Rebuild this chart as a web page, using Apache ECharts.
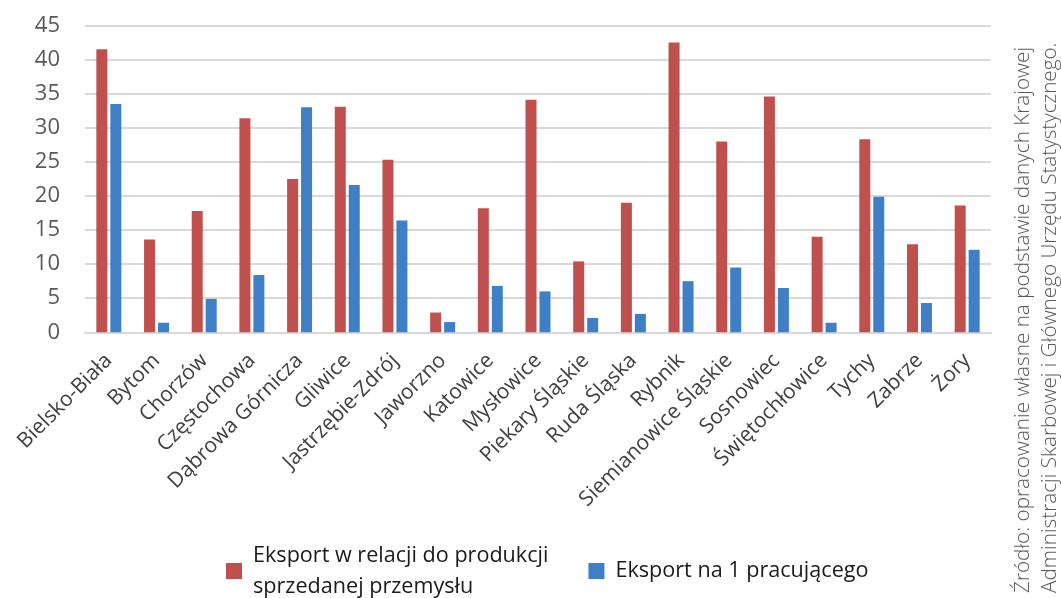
<!DOCTYPE html>
<html>
<head>
<meta charset="utf-8">
<script src="https://cdn.jsdelivr.net/npm/echarts@6/dist/echarts.min.js"></script>
<style>
  html, body { margin: 0; padding: 0; background: #ffffff; }
  #chart { width: 1061px; height: 598px; }
</style>
</head>
<body>
<div id="chart"></div>
<script>
// Cities of the Silesian voivodeship
const cities = [
  'Bielsko-Biała', 'Bytom', 'Chorzów', 'Częstochowa', 'Dąbrowa Górnicza',
  'Gliwice', 'Jastrzębie-Zdrój', 'Jaworzno', 'Katowice', 'Mysłowice',
  'Piekary Śląskie', 'Ruda Śląska', 'Rybnik', 'Siemianowice Śląskie',
  'Sosnowiec', 'Świętochłowice', 'Tychy', 'Zabrze', 'Żory'
];

// Export relative to sold industrial production
const exportToProduction = [
  41.5, 13.6, 17.8, 31.4, 22.5, 33.1, 25.3, 2.9, 18.2, 34.1,
  10.4, 19.0, 42.5, 28.0, 34.6, 14.0, 28.3, 12.9, 18.6
];

// Export per employed person
const exportPerWorker = [
  33.5, 1.4, 4.9, 8.4, 33.0, 21.6, 16.4, 1.5, 6.8, 6.0,
  2.1, 2.7, 7.5, 9.5, 6.5, 1.4, 19.9, 4.3, 12.1
];

const seriesNames = [
  'Eksport w relacji do produkcji\nsprzedanej przemysłu',
  'Eksport na 1 pracującego'
];

const sourceLines = [
  'Źródło: opracowanie własne na podstawie danych Krajowej',
  'Administracji Skarbowej i Głównego Urzędu Statystycznego.'
];

const FONT = '"Open Sans", "DejaVu Sans", sans-serif';

const chart = echarts.init(document.getElementById('chart'), null, { renderer: 'canvas' });

chart.setOption({
  backgroundColor: '#ffffff',
  animation: false,
  grid: { left: 85, right: 70, top: 25.5, bottom: 265.7 },
  legend: {
    left: 226,
    top: 540,
    padding: 0,
    itemWidth: 16,
    itemHeight: 16,
    itemGap: 40,
    icon: 'rect',
    textStyle: {
      fontFamily: FONT,
      fontSize: 21.6,
      color: '#1a1a1a',
      lineHeight: 31,
      padding: [0, 0, 0, 6]
    },
    data: seriesNames
  },
  xAxis: {
    type: 'category',
    data: cities,
    axisTick: { show: false },
    axisLine: { show: true, lineStyle: { color: '#d9d9d9', width: 2 } },
    axisLabel: {
      interval: 0,
      rotate: 45,
      margin: 25,
      fontFamily: FONT,
      fontSize: 21,
      color: '#404040'
    }
  },
  yAxis: {
    type: 'value',
    min: 0,
    max: 45,
    interval: 5,
    axisLine: { show: false },
    axisTick: { show: false },
    splitLine: { lineStyle: { color: '#d9d9d9', width: 2 } },
    axisLabel: {
      margin: 25,
      fontFamily: FONT,
      fontSize: 22,
      color: '#595959'
    }
  },
  series: [
    {
      name: seriesNames[0],
      type: 'bar',
      data: exportToProduction,
      barWidth: 11,
      barGap: '27%',
      itemStyle: { color: '#C0504D' }
    },
    {
      name: seriesNames[1],
      type: 'bar',
      data: exportPerWorker,
      barWidth: 11,
      barGap: '27%',
      itemStyle: { color: '#3F7FC6' }
    }
  ],
  graphic: sourceLines.map((line, i) => ({
    type: 'text',
    x: 1023 + i * 27,
    y: 593,
    rotation: Math.PI / 2,
    style: {
      text: line,
      fontFamily: FONT,
      fontWeight: 300,
      fontSize: 20.7,
      fill: '#595959',
      align: 'left',
      verticalAlign: 'middle'
    }
  }))
});
</script>
</body>
</html>
